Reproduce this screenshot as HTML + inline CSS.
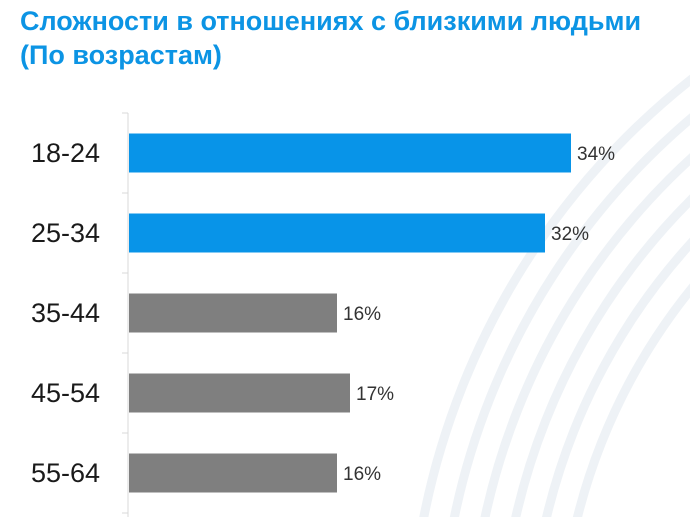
<!DOCTYPE html>
<html style="overflow:hidden;width:690px;height:517px"><head><meta charset="utf-8"><style>
html,body{margin:0;padding:0}
body{width:690px;height:517px;overflow:hidden;background:#fff;font-family:"Liberation Sans",sans-serif;position:relative}
.t{position:absolute;left:20px;color:#0c94e4;font-weight:bold;font-size:27px;margin:0;line-height:32px;white-space:nowrap}
svg{display:block}
</style></head><body>
<svg width="690" height="517" style="position:absolute;left:0;top:0">
<g fill="none" stroke="#eef2f6" stroke-width="9">
<circle cx="1150" cy="660" r="590"/><circle cx="1150" cy="660" r="620"/><circle cx="1150" cy="660" r="650"/>
<circle cx="1150" cy="660" r="680"/><circle cx="1150" cy="660" r="710"/><circle cx="1150" cy="660" r="740"/>
</g></svg>
<div class="t" style="top:5px">Сложности в отношениях с близкими людьми</div>
<div class="t" style="top:39px">(По возрастам)</div>
<svg id="c" width="690" height="517" style="position:absolute;left:0;top:0"></svg>
<script>
const categories=["18-24","25-34","35-44","45-54","55-64"];
const values=[34,32,16,17,16];
const highlight=[true,true,false,false,false];
const NS="http://www.w3.org/2000/svg",svg=document.getElementById("c");
const x0=129,pxPer=13,top0=113,band=80,bh=39;
const xs=v=>x0+v*pxPer, yb=i=>top0+i*band;
function mk(t,a){const e=document.createElementNS(NS,t);for(const k in a)e.setAttribute(k,a[k]);svg.appendChild(e);return e;}
const ax=mk("line",{x1:128,y1:113,x2:128,y2:517,stroke:"#d9d9d9","stroke-width":1});


for(let i=0;i<=categories.length;i++){const tk=mk("line",{x1:122,x2:128,y1:yb(i),y2:yb(i),stroke:"#d9d9d9"});

}
categories.forEach((c,i)=>{
const cy=yb(i)+band/2;
const b=mk("rect",{x:x0,y:cy-bh/2,width:xs(values[i])-x0,height:bh,fill:highlight[i]?"#0894e8":"#7f7f7f"});


const l=mk("text",{x:100,y:cy+9,"text-anchor":"end","font-size":"27px",fill:"#1a1a1a","font-family":"Liberation Sans, sans-serif"});l.textContent=c;


const v=mk("text",{x:xs(values[i])+6,y:cy+7,"font-size":"19px",fill:"#333","font-family":"Liberation Sans, sans-serif"});v.textContent=values[i]+"%";


});
</script>
</body></html>
